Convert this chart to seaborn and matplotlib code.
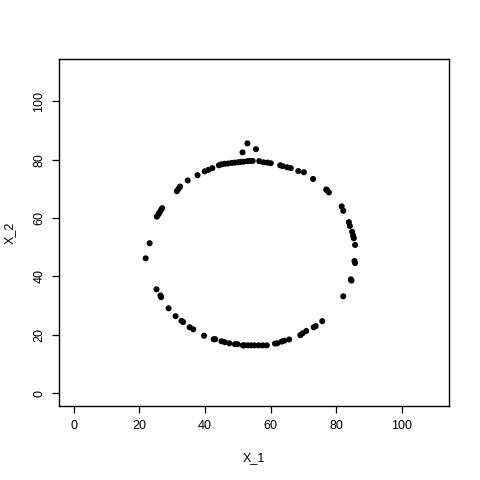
import matplotlib
matplotlib.use("Agg")
import matplotlib.pyplot as plt
import seaborn as sns
import pandas as pd

# ring of points (X_1, X_2)
x_1 = [52.9, 51.4, 55.5,
       21.9, 23.1, 25.3, 25.8, 26.1, 26.5, 26.9, 31.4, 31.9, 32.4, 34.7,
       37.7, 39.9, 41.0, 42.2, 44.2, 45.0, 46.0, 47.0, 48.1, 49.0, 50.0,
       50.7, 51.7, 52.9, 53.7, 54.5, 56.5, 57.8, 59.0, 60.0, 62.9, 63.6,
       65.0, 66.1, 68.4, 70.1, 72.9, 76.9, 77.1, 77.7, 81.6, 82.1, 83.8,
       84.1, 84.8, 85.1, 85.3, 85.7, 85.5, 85.7, 84.4, 84.6, 82.1, 75.7,
       73.7, 73.1, 70.8, 69.7, 69.0, 65.6, 64.1, 63.3, 62.0, 61.3, 58.8,
       57.5, 56.3, 55.0, 54.0, 53.0, 52.0, 51.5, 49.9, 49.1, 47.4, 46.0,
       45.0, 43.1, 42.6, 39.7, 36.4, 35.3, 33.3, 32.8, 31.0, 28.9, 26.6,
       26.4, 25.2]
x_2 = [85.6, 82.5, 83.6,
       46.2, 51.4, 60.5, 61.3, 61.9, 62.6, 63.4, 69.2, 70.0, 70.8, 72.9,
       74.7, 76.0, 76.5, 77.1, 78.1, 78.4, 78.6, 78.7, 78.9, 79.0, 79.1,
       79.2, 79.3, 79.5, 79.6, 79.6, 79.5, 79.1, 79.0, 78.8, 78.1, 77.8,
       77.4, 77.1, 76.1, 75.7, 73.4, 69.8, 69.6, 68.8, 64.0, 62.5, 58.6,
       57.3, 55.3, 53.9, 53.1, 50.8, 45.3, 44.6, 39.0, 38.6, 33.2, 24.7,
       23.0, 22.6, 21.3, 20.5, 19.9, 18.4, 18.0, 17.7, 17.1, 17.0, 16.4,
       16.4, 16.4, 16.4, 16.4, 16.4, 16.4, 16.4, 16.8, 16.8, 17.1, 17.5,
       17.8, 18.5, 18.5, 19.7, 21.9, 22.6, 24.4, 24.8, 26.4, 29.1, 32.9,
       33.5, 35.6]
ticks = [0, 20, 40, 60, 80, 100]

df = pd.DataFrame({"X_1": x_1, "X_2": x_2})

sns.set_theme(style="ticks")
plt.rcParams["font.family"] = ["Liberation Sans", "DejaVu Sans"]

fig = plt.figure(figsize=(4.8, 4.8), dpi=100)
ax = fig.add_axes([0.1236, 0.154, 0.8125, 0.7225])

sns.scatterplot(data=df, x="X_1", y="X_2", color="black", s=19,
                edgecolor="none", linewidth=0, ax=ax)

ax.set_xlim(-4.4, 114.4)
ax.set_ylim(-4.4, 114.4)
ax.set_xticks(ticks)
ax.set_yticks(ticks)
ax.set_xticklabels([str(t) for t in ticks], fontsize=9)
ax.set_yticklabels([str(t) for t in ticks], fontsize=9, rotation=90, va="center")
ax.tick_params(length=5, width=0.9, color="black", pad=5, labelcolor="black")

for sp in ax.spines.values():
    sp.set_visible(True)
    sp.set_color("black")
    sp.set_linewidth(1.0)

ax.set_xlabel("X_1", fontsize=9, color="black")
ax.set_ylabel("X_2", fontsize=9, color="black")
ax.xaxis.set_label_coords(0.50, -0.15)
ax.xaxis.label.set_va("center")
ax.yaxis.set_label_coords(-0.126, 0.50)
ax.yaxis.label.set_va("center")

fig.savefig("out.png", dpi=100)
